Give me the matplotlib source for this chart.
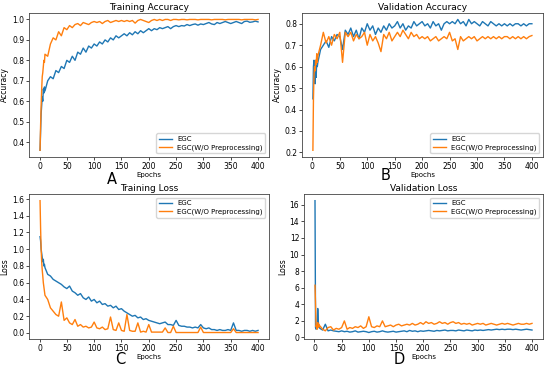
import matplotlib
matplotlib.use("Agg")
import matplotlib.pyplot as plt

epochs = list(range(1, 10)) + list(range(10, 401, 5))

train_acc_egc = [
    0.36, 0.45, 0.54, 0.58, 0.62, 0.60, 0.66, 0.64, 0.67,
    0.65, 0.70, 0.72, 0.71, 0.75, 0.74, 0.77, 0.76, 0.80,
    0.79, 0.82, 0.80, 0.84, 0.83, 0.86, 0.84, 0.87, 0.86, 0.88,
    0.87, 0.89, 0.88, 0.90, 0.89, 0.91, 0.90, 0.92, 0.91, 0.92,
    0.93, 0.92, 0.935, 0.925, 0.94, 0.93, 0.945, 0.935, 0.945, 0.955,
    0.945, 0.955, 0.95, 0.96, 0.955, 0.96, 0.965, 0.955, 0.965, 0.97,
    0.965, 0.97, 0.968, 0.975, 0.97, 0.975, 0.978, 0.972, 0.978, 0.975,
    0.98, 0.985, 0.978, 0.975, 0.985, 0.98, 0.985, 0.99, 0.985, 0.98,
    0.985, 0.99, 0.985, 0.98, 0.99, 0.992, 0.986, 0.988, 0.992, 0.988,
]
train_acc_nopre = [
    0.36, 0.48, 0.58, 0.66, 0.72, 0.74, 0.77, 0.80, 0.79,
    0.83, 0.82, 0.88, 0.91, 0.90, 0.94, 0.92, 0.96, 0.95,
    0.97, 0.96, 0.975, 0.98, 0.97, 0.985, 0.98, 0.975, 0.985, 0.99,
    0.985, 0.99, 0.98, 0.99, 0.995, 0.985, 0.99, 0.995, 0.99, 0.995,
    0.99, 0.995, 0.99, 0.995, 0.982, 0.995, 1.0, 0.995, 0.99, 0.985,
    0.995, 1.0, 0.995, 1.0, 0.995, 1.0, 1.0, 0.995, 1.0, 1.0,
    0.998, 1.0, 1.0, 0.998, 1.0, 1.0, 1.0, 0.998, 1.0, 1.0,
    1.0, 1.0, 0.998, 1.0, 1.0, 1.0, 1.0, 0.998, 1.0, 1.0,
    1.0, 1.0, 1.0, 0.998, 1.0, 1.0, 1.0, 1.0, 0.998, 1.0,
]

val_acc_egc = [
    0.45, 0.60, 0.63, 0.58, 0.52, 0.62, 0.55, 0.64, 0.60,
    0.62, 0.68, 0.70, 0.72, 0.69, 0.74, 0.72, 0.75, 0.74,
    0.68, 0.77, 0.75, 0.78, 0.74, 0.77, 0.73, 0.78, 0.76, 0.80,
    0.77, 0.79, 0.75, 0.78, 0.76, 0.79, 0.77, 0.80, 0.78, 0.79,
    0.81, 0.78, 0.80, 0.77, 0.79, 0.78, 0.81, 0.79, 0.80, 0.81,
    0.79, 0.80, 0.78, 0.81, 0.79, 0.80, 0.77, 0.80, 0.81, 0.80,
    0.81, 0.80, 0.82, 0.80, 0.81, 0.79, 0.82, 0.80, 0.81, 0.80,
    0.79, 0.81, 0.80, 0.79, 0.81, 0.80, 0.79, 0.80, 0.79, 0.80,
    0.79, 0.80, 0.79, 0.80, 0.80, 0.79, 0.80, 0.79, 0.80, 0.80,
]
val_acc_nopre = [
    0.21, 0.45, 0.56, 0.60, 0.58, 0.63, 0.61, 0.66, 0.62,
    0.65, 0.70, 0.76, 0.71, 0.74, 0.70, 0.75, 0.73, 0.76,
    0.62, 0.76, 0.74, 0.76, 0.72, 0.75, 0.73, 0.74, 0.76, 0.70,
    0.75, 0.72, 0.74, 0.71, 0.67, 0.75, 0.73, 0.76, 0.72, 0.74,
    0.76, 0.74, 0.77, 0.75, 0.73, 0.76, 0.74, 0.75, 0.73, 0.74,
    0.73, 0.74, 0.72, 0.73, 0.74, 0.72, 0.73, 0.74, 0.73, 0.76,
    0.72, 0.73, 0.68, 0.74, 0.72, 0.73, 0.74, 0.73, 0.74, 0.72,
    0.73, 0.74, 0.73, 0.74, 0.73, 0.74, 0.73, 0.74, 0.73, 0.74,
    0.74, 0.73, 0.74, 0.73, 0.74, 0.73, 0.74, 0.73, 0.74, 0.745,
]

train_loss_egc = [
    1.15, 1.10, 1.00, 0.95, 0.90, 0.85, 0.88, 0.80, 0.82,
    0.78, 0.70, 0.68, 0.64, 0.62, 0.60, 0.58, 0.55, 0.53,
    0.56, 0.50, 0.48, 0.45, 0.47, 0.42, 0.40, 0.43, 0.38, 0.40,
    0.36, 0.38, 0.34, 0.35, 0.32, 0.33, 0.30, 0.32, 0.28, 0.29,
    0.26, 0.24, 0.22, 0.20, 0.21, 0.18, 0.19, 0.16, 0.17, 0.15,
    0.14, 0.13, 0.12, 0.11, 0.12, 0.13, 0.10, 0.10, 0.09, 0.15,
    0.09, 0.08, 0.08, 0.07, 0.07, 0.06, 0.07, 0.06, 0.10, 0.06,
    0.05, 0.06, 0.04, 0.04, 0.03, 0.04, 0.03, 0.03, 0.04, 0.03,
    0.12, 0.03, 0.03, 0.02, 0.03, 0.03, 0.02, 0.03, 0.02, 0.03,
]
train_loss_nopre = [
    1.58, 1.25, 1.00, 0.85, 0.75, 0.68, 0.60, 0.55, 0.50,
    0.45, 0.40, 0.30, 0.26, 0.22, 0.20, 0.37, 0.15, 0.18,
    0.12, 0.10, 0.16, 0.08, 0.10, 0.07, 0.08, 0.06, 0.07, 0.13,
    0.06, 0.05, 0.07, 0.04, 0.05, 0.19, 0.04, 0.03, 0.12, 0.03,
    0.02, 0.22, 0.03, 0.02, 0.02, 0.12, 0.01, 0.02, 0.01, 0.10,
    0.01, 0.01, 0.01, 0.01, 0.01, 0.06, 0.005, 0.005, 0.08, 0.005,
    0.005, 0.005, 0.005, 0.005, 0.005, 0.005, 0.005, 0.005, 0.07, 0.005,
    0.005, 0.005, 0.005, 0.005, 0.005, 0.005, 0.005, 0.005, 0.005, 0.005,
    0.05, 0.005, 0.005, 0.005, 0.005, 0.005, 0.005, 0.005, 0.005, 0.005,
]

val_loss_egc = [
    16.5, 1.2, 1.0, 1.5, 1.2, 3.5, 2.0, 1.2, 1.3,
    1.1, 0.9, 1.6, 0.8, 0.9, 0.8, 0.75, 0.7, 0.8,
    0.7, 0.75, 0.65, 0.7, 0.8, 0.65, 0.7, 0.75, 0.7, 0.6,
    0.7, 0.75, 0.65, 0.7, 0.8, 0.7, 0.65, 0.7, 0.75, 0.65,
    0.7, 0.75, 0.8, 0.7, 0.85, 0.75, 0.8, 0.7, 0.8, 0.75,
    0.8, 0.85, 0.8, 0.75, 0.85, 0.8, 0.85, 0.9, 0.8, 0.85,
    0.85, 0.8, 0.9, 0.85, 0.8, 0.9, 0.85, 0.8, 0.9, 0.85,
    0.9, 0.85, 0.9, 0.95, 0.9, 0.95, 1.0, 0.95, 1.0, 0.95,
    1.0, 1.0, 0.95, 1.0, 0.95, 0.9, 0.95, 1.0, 0.95, 0.9,
]
val_loss_nopre = [
    6.3, 4.0, 1.3, 1.5, 1.0, 1.8, 1.2, 1.6, 1.3,
    1.4, 1.0, 0.8, 1.2, 1.3, 0.9, 1.1, 1.0, 1.2,
    2.0, 1.0, 1.2, 1.1, 1.3, 1.2, 1.4, 1.1, 1.3, 2.5,
    1.3, 1.2, 1.4, 1.3, 2.0, 1.3, 1.4, 1.5, 1.3, 1.5,
    1.6, 1.4, 1.5, 1.6, 1.5, 1.7, 1.5, 1.6, 1.8, 1.6,
    1.9, 1.7, 1.8, 1.6, 1.7, 1.9, 1.7, 1.8, 1.6, 1.8,
    1.9, 1.7, 1.8, 1.6, 1.7, 1.6, 1.7, 1.5, 1.6, 1.7,
    1.6, 1.7, 1.5, 1.6, 1.7, 1.6, 1.5, 1.6, 1.7, 1.6,
    1.7, 1.6, 1.5, 1.6, 1.7, 1.6, 1.6, 1.7, 1.6, 1.7,
]

labels = ["EGC", "EGC(W/O Preprocessing)"]

panels = [
    ("Training Accuracy", "Accuracy", train_acc_egc, train_acc_nopre, "lower right", [0.053, 0.575, 0.436, 0.39]),
    ("Validation Accuracy", "Accuracy", val_acc_egc, val_acc_nopre, "lower right", [0.549, 0.575, 0.438, 0.39]),
    ("Training Loss", "Loss", train_loss_egc, train_loss_nopre, "upper right", [0.053, 0.081, 0.436, 0.393]),
    ("Validation Loss", "Loss", val_loss_egc, val_loss_nopre, "upper right", [0.553, 0.081, 0.434, 0.393]),
]
letters = [("A", 112, 179), ("B", 386, 176), ("C", 120, 360), ("D", 399, 360)]

fig = plt.figure(figsize=(5.5, 3.69), dpi=100)

for title, ylabel, egc, nopre, loc, rect in panels:
    ax = fig.add_axes(rect)
    ax.plot(epochs, egc, color="#1f77b4", lw=1.0, label=labels[0])
    ax.plot(epochs, nopre, color="#ff7f0e", lw=1.0, label=labels[1])
    ax.set_xticks(range(0, 401, 50))
    ax.set_title(title, fontsize=6.5, pad=2)
    ax.set_xlabel("Epochs", fontsize=5, labelpad=1)
    ax.set_ylabel(ylabel, fontsize=5.5, labelpad=2)
    ax.tick_params(labelsize=5.5, length=2, width=0.5, pad=1.5)
    for s in ax.spines.values():
        s.set_linewidth(0.6)
        s.set_color("#444444")
    ax.legend(loc=loc, fontsize=5, handlelength=1.8, borderpad=0.4, labelspacing=0.3)

for letter, x, y in letters:
    fig.text(x / 550, 1 - y / 369, letter, fontsize=10.5, ha="center", va="center")

fig.savefig("out.png", dpi=100)
